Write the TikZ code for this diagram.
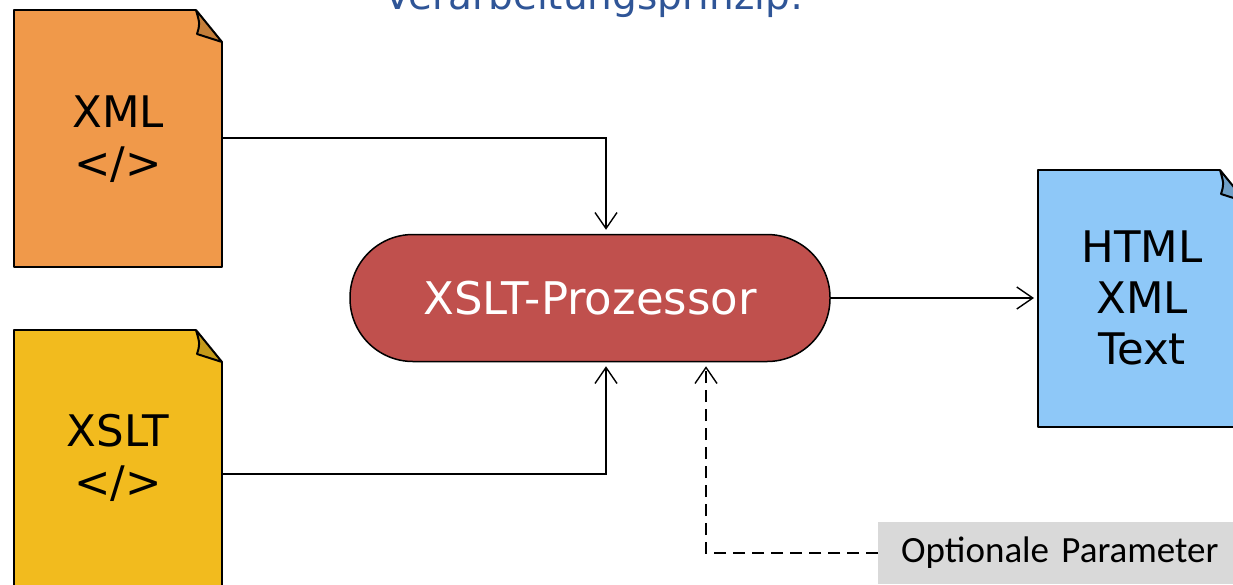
\documentclass[tikz,border=0pt]{standalone}
\usepackage{fontspec}
\setmainfont{DejaVu Sans}
\newfontfamily\calib{Carlito}
\usetikzlibrary{arrows.meta}
\definecolor{xmlor}{HTML}{F0994A}
\definecolor{xmlorD}{HTML}{C47E3A}
\definecolor{xsly}{HTML}{F2BB1E}
\definecolor{xslyD}{HTML}{C49A1A}
\definecolor{htmb}{HTML}{8EC8F8}
\definecolor{htmbD}{HTML}{6FA0C8}
\definecolor{procred}{HTML}{C0504D}
\definecolor{optgrey}{HTML}{D9D9D9}
\definecolor{titleblue}{HTML}{2F5597}
\tikzset{
  docline/.style={draw=black, line width=2pt, line join=round},
  doctext/.style={font=\fontsize{43.5}{51}\selectfont, align=center, text=black},
  conn/.style={draw=black, line width=1.4pt, shorten >=4pt, -{Straight Barb[length=16pt,width=22pt,line width=1.4pt]}},
  dconn/.style={conn, dash pattern=on 12pt off 7pt},
}
\newcommand{\docshape}[6]{% x0 y0 x1 y1 fill foldfill
  \fill[#5] (#1,#2) -- (#3-26,#2) -- (#3,#2+32) -- (#3,#4) -- (#1,#4) -- cycle;
  \draw[docline] (#3,#2+32) -- (#3,#4) -- (#1,#4) -- (#1,#2) -- (#3-26,#2);
  \draw[docline, fill=#6] (#3-26,#2) -- (#3,#2+32) -- (#3-25,#2+24) .. controls (#3-22,#2+14) .. (#3-26,#2) -- cycle;
}
\begin{document}
\begin{tikzpicture}[x=1pt,y=-1pt]
\useasboundingbox (0,0) rectangle (1233,584);
\clip (0,0) rectangle (1233,584);
% title (cut off, as in the reference)
\node[anchor=base, text=titleblue, font=\fontsize{39}{45}\selectfont, inner sep=0] (title) at (594,9) {Verarbeitungsprinzip:};
% documents
\docshape{14}{10}{222}{267}{xmlor}{xmlorD}
\node[doctext] (xml) at (118,139) {XML\\\textless/\textgreater};
\docshape{14}{330}{222}{640}{xsly}{xslyD}
\node[doctext] (xslt) at (118,458) {XSLT\\\textless/\textgreater};
\docshape{1038}{170}{1246}{427}{htmb}{htmbD}
\node[doctext] (html) at (1142,298) {HTML\\XML\\Text};
% anchors
\coordinate (xmlR) at (222,138);
\coordinate (xsltR) at (222,474);
\coordinate (htmlL) at (1038,298);
% processor
\node[draw=black, line width=1.5pt, fill=procred, rounded corners=63pt, minimum width=480pt, minimum height=127pt, inner sep=0, text=white, font=\fontsize{45}{52}\selectfont] (proc) at (590,298) {XSLT-Prozessor};
% optional parameter
\node[fill=optgrey, anchor=west, minimum width=380pt, minimum height=62pt, text width=340pt, inner xsep=23pt, align=left, font=\calib\fontsize{37}{42}\selectfont] (opt) at (878,553) {Optionale Parameter};
% connectors
\draw[conn] (xmlR) -| ([xshift=16pt]proc.north);
\draw[conn] (xsltR) -| ([xshift=16pt]proc.south);
\draw[conn] (proc.east) -- (htmlL);
\draw[dconn] (opt.west) -| ([xshift=116pt]proc.south);
\end{tikzpicture}
\end{document}
